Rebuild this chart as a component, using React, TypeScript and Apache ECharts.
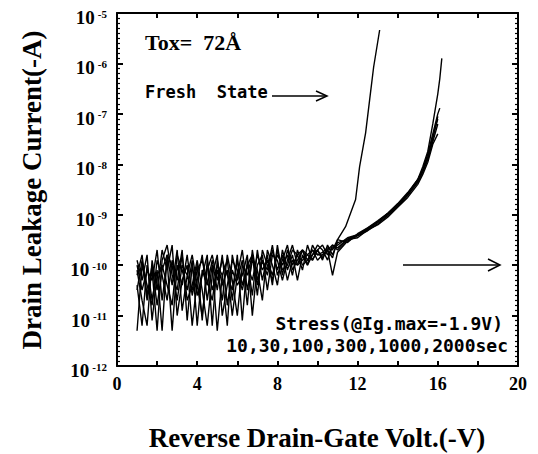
import React, { useEffect, useRef } from 'react';
import * as echarts from 'echarts';

// Reverse drain-gate voltage (-V), low-voltage noisy region
const voltsLow = [1.0, 1.25, 1.5, 1.75, 2.0, 2.25, 2.5, 2.75, 3.0, 3.25, 3.5, 3.75, 4.0, 4.25, 4.5, 4.75, 5.0, 5.25, 5.5, 5.75, 6.0, 6.25, 6.5, 6.75, 7.0, 7.25, 7.5, 7.75, 8.0, 8.25, 8.5, 8.75, 9.0, 9.25, 9.5, 9.75, 10.0];
// Voltages for the rising part of each curve
const voltsRiseFresh = [10.25, 10.5, 10.75, 11.0, 11.4, 11.9, 12.1, 12.4, 12.6, 12.8, 13.1];
const voltsRiseStress = [10.25, 10.5, 10.75, 11.0, 11.5, 12.0, 12.5, 13.0, 13.5, 14.0, 14.5, 15.0, 15.25, 15.5, 15.75, 16.0, 16.1, 16.2];

// Drain leakage current (-A)
const freshLow = [4e-11, 6.3e-12, 1e-10, 2e-11, 8e-11, 5e-12, 1.6e-10, 4e-11, 2e-10, 1.25e-11, 6.3e-11, 3.2e-11, 1e-10, 8e-12, 1.25e-10, 3.2e-11, 8e-11, 2e-11, 1.6e-10, 5e-11, 1e-11, 1e-10, 6.3e-11, 1.6e-10, 4e-11, 1.25e-10, 6.3e-11, 2e-10, 8e-11, 1.6e-10, 5e-11, 1.25e-10, 1e-10, 2e-10, 1.25e-10, 2e-10, 1.6e-10];
const freshRise = [1.6e-10, 2e-10, 1.4e-10, 3.2e-10, 5.8e-10, 2e-9, 9e-9, 4.2e-8, 1.9e-7, 8.5e-7, 4.6e-6];

const s10Low = [8e-11, 2e-11, 6.3e-12, 1.25e-10, 3.2e-11, 2e-10, 8e-11, 2.5e-10, 1e-11, 5e-11, 1e-10, 6.3e-12, 5e-11, 1.6e-10, 2e-11, 1e-10, 5e-12, 6.3e-11, 1.25e-10, 2e-11, 1.6e-10, 8e-12, 1.25e-10, 2.5e-11, 2e-10, 5e-11, 1.6e-10, 4e-11, 2.5e-10, 6.3e-11, 2e-10, 1e-10, 1.6e-10, 8e-11, 2.5e-10, 1.25e-10, 2e-10];
const s10Rise = [1.26e-10, 2.5e-10, 1.6e-10, 2.8e-10, 3.2e-10, 3.5e-10, 5e-10, 6.3e-10, 8.9e-10, 1.4e-9, 2.2e-9, 4e-9, 6.3e-9, 1.1e-8, 2.5e-8, 4e-8];

const s30Low = [5e-12, 1e-10, 4e-11, 1.6e-11, 1.25e-10, 6.3e-11, 2e-11, 1.25e-10, 5e-11, 2e-10, 8e-12, 1e-10, 2.5e-11, 6.3e-11, 1.6e-10, 6.3e-12, 1.25e-10, 4e-11, 8e-11, 1e-11, 6.3e-11, 2e-10, 3.2e-11, 1.25e-10, 8e-11, 2e-11, 2e-10, 1e-10, 4e-11, 2e-10, 8e-11, 1.6e-10, 5e-11, 1.6e-10, 1e-10, 1.6e-10, 2.5e-10];
const s30Rise = [2e-10, 1.26e-10, 2.5e-10, 2e-10, 3.2e-10, 4e-10, 5.2e-10, 7.1e-10, 1e-9, 1.5e-9, 2.5e-9, 4.5e-9, 7.1e-9, 1.26e-8, 2.8e-8, 6.3e-8];

const s100Low = [1.25e-10, 5e-11, 1.6e-10, 8e-12, 6.3e-11, 1e-10, 4e-11, 1.6e-11, 1.6e-10, 8e-11, 3.2e-11, 1.25e-10, 6.3e-12, 8e-11, 4e-11, 1.25e-10, 3.2e-11, 1.6e-10, 1.6e-11, 8e-11, 4e-11, 6.3e-11, 1.6e-10, 1e-11, 1e-10, 1.6e-10, 3.2e-11, 1.6e-10, 1.25e-10, 5e-11, 1.25e-10, 2.5e-10, 1e-10, 1.25e-10, 1.6e-10, 2e-10, 1.25e-10];
const s100Rise = [1.6e-10, 2e-10, 6.3e-11, 1.8e-10, 3e-10, 3.8e-10, 4.8e-10, 6.6e-10, 9.5e-10, 1.45e-9, 2.4e-9, 4.4e-9, 7.1e-9, 1.3e-8, 3.2e-8, 8.9e-8];

const s300Low = [3.2e-11, 1.25e-10, 2e-11, 8e-11, 5e-12, 1.25e-10, 2.5e-10, 6.3e-11, 3.2e-11, 1.6e-10, 2e-11, 4e-11, 1.25e-10, 3.2e-11, 6.3e-12, 6.3e-11, 1.6e-10, 1e-11, 4e-11, 1.25e-10, 8e-11, 3.2e-11, 1e-10, 5e-11, 1.6e-10, 8e-11, 1.25e-10, 6.3e-11, 1.6e-10, 1e-10, 1.6e-10, 6.3e-11, 2e-10, 1e-10, 1.25e-10, 1.6e-10, 2e-10];
const s300Rise = [2.5e-10, 1.6e-10, 2.2e-10, 2.5e-10, 3.5e-10, 4e-10, 5e-10, 7.1e-10, 1.05e-9, 1.6e-9, 2.6e-9, 4.8e-9, 7.6e-9, 1.4e-8, 3.5e-8, 7.9e-8];

const s1000Low = [1e-10, 3.2e-11, 8e-11, 5e-11, 2e-10, 2e-11, 1.25e-10, 5e-12, 1e-10, 4e-11, 1.6e-10, 2.5e-11, 8e-11, 1.25e-10, 5e-11, 2e-11, 1e-10, 6.3e-11, 6.3e-12, 1.6e-10, 5e-11, 1.25e-10, 1.6e-11, 2e-10, 5e-11, 1.25e-10, 8e-11, 2.5e-10, 6.3e-11, 1.25e-10, 2.5e-10, 8e-11, 1.25e-10, 2e-10, 1e-10, 2.5e-10, 1.6e-10];
const s1000Rise = [1.8e-10, 2.2e-10, 2e-10, 3.2e-10, 2.8e-10, 4.2e-10, 5.5e-10, 7.6e-10, 1.07e-9, 1.66e-9, 2.75e-9, 5e-9, 7.9e-9, 1.6e-8, 4e-8, 1e-7, 1.3e-7];

const s2000Low = [6.3e-11, 1.6e-10, 2.5e-11, 1e-10, 1.6e-11, 8e-11, 1.6e-10, 1e-10, 2e-11, 1e-10, 6.3e-11, 1.6e-10, 4e-11, 1e-11, 8e-11, 1.6e-10, 5e-11, 1.25e-10, 6.3e-11, 3.2e-11, 1.25e-10, 4e-11, 1e-10, 1.6e-10, 2.5e-11, 2e-10, 1e-10, 5e-11, 2e-10, 8e-11, 1e-10, 2e-10, 1.6e-10, 2e-10, 1.6e-10, 1.25e-10, 2e-10];
const s2000Rise = [1.4e-10, 2e-10, 2.5e-10, 2.2e-10, 3.3e-10, 4e-10, 5.4e-10, 7.2e-10, 1.05e-9, 1.6e-9, 2.6e-9, 5e-9, 8.9e-9, 1.8e-8, 6.3e-8, 2.5e-7, 5e-7, 1.26e-6];

const xTickLabels = ['0', '4', '8', '12', '16', '20'];

const curves = [
  { name: 'Fresh', low: freshLow, riseV: voltsRiseFresh, rise: freshRise },
  { name: '10 sec', low: s10Low, riseV: voltsRiseStress, rise: s10Rise },
  { name: '30 sec', low: s30Low, riseV: voltsRiseStress, rise: s30Rise },
  { name: '100 sec', low: s100Low, riseV: voltsRiseStress, rise: s100Rise },
  { name: '300 sec', low: s300Low, riseV: voltsRiseStress, rise: s300Rise },
  { name: '1000 sec', low: s1000Low, riseV: voltsRiseStress, rise: s1000Rise },
  { name: '2000 sec', low: s2000Low, riseV: voltsRiseStress, rise: s2000Rise },
];

const pairs = (xs: number[], ys: number[]) => ys.map((y, i) => [xs[i], y]);

const SERIF = '"Liberation Serif", "Times New Roman", serif';
const MONO = '"DejaVu Sans Mono", monospace';

export default function App() {
  const ref = useRef<HTMLDivElement>(null);
  useEffect(() => {
    document.body.style.margin = '0';
    const chart = echarts.init(ref.current!, null, { renderer: 'svg' });

    const yLabel = {
      show: true,
      margin: 10,
      padding: [9, 0, 0, 0],
      formatter: (v: number) => {
        const e = Math.round(Math.log10(v));
        return `{b|10}{s|${e}}`;
      },
      rich: {
        b: { fontFamily: SERIF, fontWeight: 'bold', fontSize: 19, color: '#000' },
        s: { fontFamily: SERIF, fontWeight: 'bold', fontSize: 11, color: '#000', verticalAlign: 'top', padding: [0, 0, 0, 3] },
      },
    };

    const yCommon = {
      type: 'log',
      logBase: 10,
      min: 1e-12,
      max: 1e-5,
      splitNumber: 7,
      splitLine: { show: false },
      minorSplitLine: { show: false },
      axisLine: { show: true, onZero: false, lineStyle: { color: '#000', width: 2 } },
      axisTick: { show: true, inside: true, length: 6, lineStyle: { color: '#000', width: 2 } },
    };

    // decade-exponent axes that only draw the small in-between ticks
    const yMinor = {
      type: 'value',
      min: -12,
      max: -5,
      interval: 1,
      splitLine: { show: false },
      minorSplitLine: { show: false },
      axisLine: { show: false, onZero: false },
      axisTick: { show: true, inside: true, length: 6, lineStyle: { color: '#000', width: 2 } },
      axisLabel: { show: false },
      minorTick: { show: true, splitNumber: 10, length: 3, lineStyle: { color: '#000', width: 1.2 } },
    };

    const xCommon = {
      type: 'value',
      min: 0,
      max: 20,
      interval: 2,
      splitLine: { show: false },
      axisLine: { show: true, onZero: false, lineStyle: { color: '#000', width: 2 } },
      axisTick: { show: true, inside: true, length: 5, lineStyle: { color: '#000', width: 2 } },
    };

    const option: any = {
      animation: false,
      backgroundColor: '#fff',
      grid: { left: 117, right: 20, top: 13, bottom: 88 },
      xAxis: [
        {
          ...xCommon,
          position: 'bottom',
          axisLabel: {
            show: true,
            margin: 9,
            fontFamily: SERIF,
            fontWeight: 'bold',
            fontSize: 18,
            color: '#000',
            formatter: (v: number) => (xTickLabels.includes(String(v)) ? String(v) : ''),
          },
        },
        { ...xCommon, position: 'top', axisLabel: { show: false } },
      ],
      yAxis: [
        { ...yCommon, position: 'left', axisLabel: yLabel },
        { ...yCommon, position: 'right', axisLabel: { show: false } },
        { ...yMinor, position: 'left' },
        { ...yMinor, position: 'right' },
      ],
      series: curves.map((c) => ({
        name: c.name,
        type: 'line',
        xAxisIndex: 0,
        yAxisIndex: 0,
        symbol: 'none',
        silent: true,
        lineStyle: { color: '#000', width: 1.4 },
        data: [...pairs(voltsLow, c.low), ...pairs(c.riseV, c.rise)],
      })),
      graphic: [
        {
          type: 'text', x: 32, y: 190, rotation: Math.PI / 2,
          style: { text: 'Drain Leakage Current(-A)', font: `bold 27px ${SERIF}`, fill: '#000', align: 'center', verticalAlign: 'middle', textAlign: 'center', textVerticalAlign: 'middle' },
        },
        {
          type: 'text', x: 317, y: 438,
          style: { text: 'Reverse Drain-Gate Volt.(-V)', font: `bold 27px ${SERIF}`, fill: '#000', align: 'center', verticalAlign: 'middle', textAlign: 'center', textVerticalAlign: 'middle' },
        },
        {
          type: 'text', x: 145, y: 42,
          style: { text: 'Tox=  72Å', font: `bold 22px ${SERIF}`, fill: '#000', align: 'left', verticalAlign: 'middle', textAlign: 'left', textVerticalAlign: 'middle' },
        },
        {
          type: 'text', x: 145, y: 92,
          style: { text: 'Fresh  State', font: `bold 17px ${MONO}`, fill: '#000', align: 'left', verticalAlign: 'middle', textAlign: 'left', textVerticalAlign: 'middle' },
        },
        { type: 'polyline', shape: { points: [[272, 96], [326, 96]] }, style: { stroke: '#000', lineWidth: 1.5, fill: null } },
        { type: 'polyline', shape: { points: [[316, 91], [327, 96], [316, 101]] }, style: { stroke: '#000', lineWidth: 1.5, fill: null } },
        { type: 'polyline', shape: { points: [[403, 265], [499, 265]] }, style: { stroke: '#000', lineWidth: 1.5, fill: null } },
        { type: 'polyline', shape: { points: [[488, 259], [500, 265], [488, 271]] }, style: { stroke: '#000', lineWidth: 1.5, fill: null } },
        {
          type: 'text', x: 503, y: 323,
          style: { text: 'Stress(@Ig.max=-1.9V)', font: `bold 18px ${MONO}`, fill: '#000', align: 'right', verticalAlign: 'middle', textAlign: 'right', textVerticalAlign: 'middle' },
        },
        {
          type: 'text', x: 508, y: 345,
          style: { text: '10,30,100,300,1000,2000sec', font: `bold 18px ${MONO}`, fill: '#000', align: 'right', verticalAlign: 'middle', textAlign: 'right', textVerticalAlign: 'middle' },
        },
      ],
    };

    chart.setOption(option);
    return () => chart.dispose();
  }, []);
  return <div ref={ref} style={{ width: 538, height: 454 }} />;
}
